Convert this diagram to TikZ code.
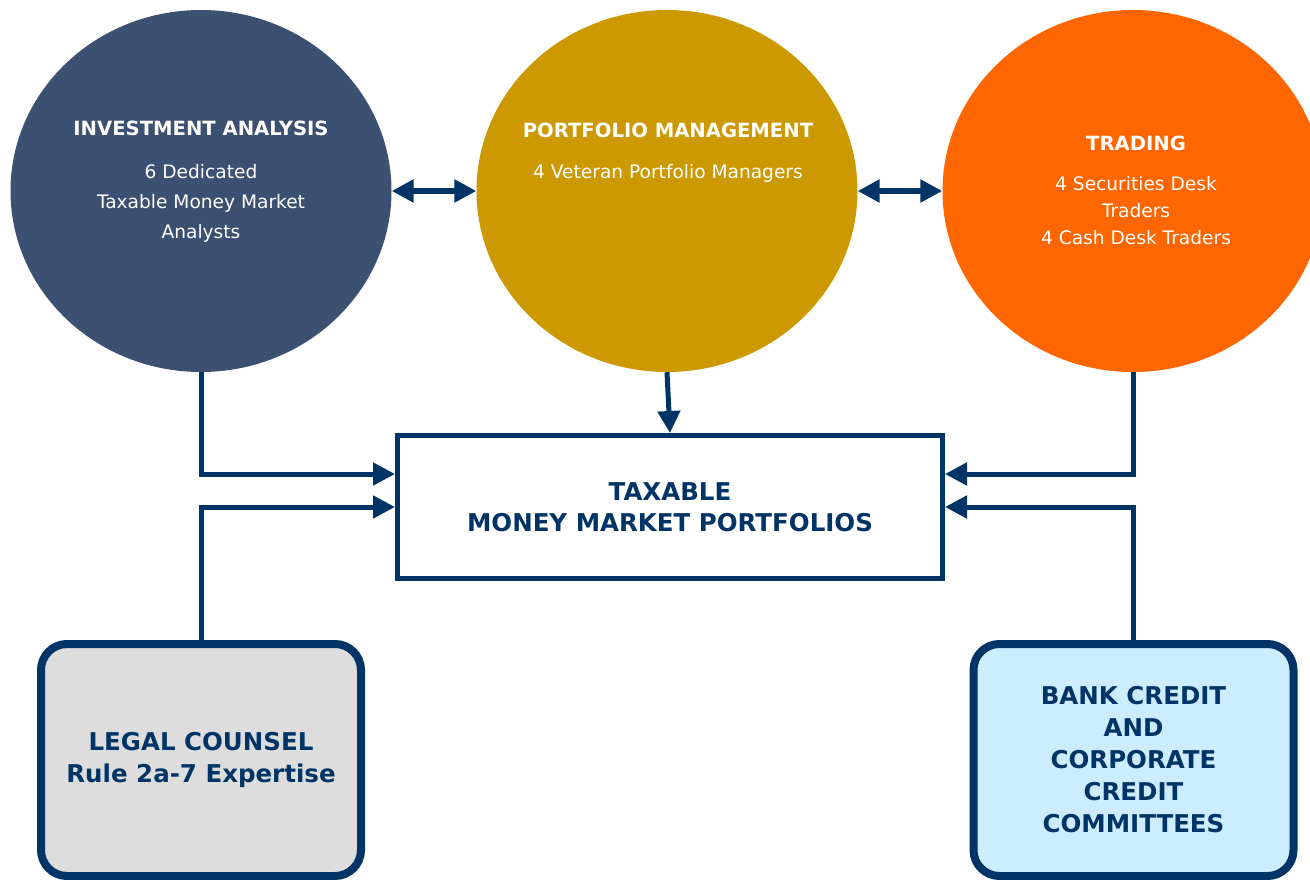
\documentclass[tikz,border=0pt]{standalone}
\usepackage{fontspec}
\setmainfont{DejaVu Sans}
\usetikzlibrary{shapes.geometric,arrows.meta}
\definecolor{navy}{HTML}{003366}
\definecolor{iablue}{HTML}{3C5071}
\definecolor{pmgold}{HTML}{CC9900}
\definecolor{trdorange}{HTML}{FF6600}
\definecolor{legalgray}{HTML}{DDDDDD}
\definecolor{bankblue}{HTML}{CCECFF}

\begin{document}
\begin{tikzpicture}[x=1pt, y=-1pt,
	disc/.style = {ellipse, inner sep=0pt, minimum width=381pt, minimum height=362pt},
	head/.style = {text=white, font=\fontsize{19.6}{23}\selectfont\bfseries},
	body/.style = {text=white, align=center, font=\fontsize{18.6}{30}\selectfont},
	port/.style = {draw=navy, line width=5pt, minimum width=545pt, minimum height=143pt, text=navy, align=center, font=\fontsize{24.5}{31}\selectfont\bfseries},
	side/.style = {draw=navy, line width=8pt, rounded corners=26pt, minimum width=320pt, minimum height=232pt, text=navy, align=center, font=\fontsize{24.5}{32}\selectfont\bfseries},
	link/.style = {draw=navy, line width=5pt, -{Triangle[length=22pt 0 0, width=22pt 0 0]}},
	both/.style = {draw=navy, line width=6pt, {Triangle[length=22pt 0 0, width=22pt 0 0]}-{Triangle[length=22pt 0 0, width=22pt 0 0]}}]
	\useasboundingbox (0,0) rectangle (1310,880);
	\node[disc, fill=iablue] (ia) at (201,191) {};
	\node[disc, fill=pmgold] (pm) at (667,191) {};
	\node[disc, fill=trdorange] (trd) at (1133,191) {};
	\node[port] (box) at (670,507) {TAXABLE\\MONEY MARKET PORTFOLIOS};
	\node[side, fill=legalgray] (legal) at (201,760) {LEGAL COUNSEL\\Rule 2a-7 Expertise};
	\node[side, fill=bankblue] (bank) at (1133.5,760) {BANK CREDIT\\AND\\CORPORATE\\CREDIT\\COMMITTEES};
	\node[head] (ia-head) at (201,128) {INVESTMENT ANALYSIS};
	\node[body] (ia-body) at (201,203) {6 Dedicated\\Taxable Money Market\\Analysts};
	\node[head] (pm-head) at (668,130) {PORTFOLIO MANAGEMENT};
	\node[body] (pm-body) at (668,173) {4 Veteran Portfolio Managers};
	\node[head] (trd-head) at (1136,143) {TRADING};
	\node[body, font=\fontsize{18.6}{27}\selectfont] (trd-body) at (1136,211) {4 Securities Desk\\Traders\\4 Cash Desk Traders};
	\draw[both] (ia.east) -- (pm.west);
	\draw[both] (pm.east) -- (trd.west);
	\draw[link] (pm.south) -- (box.north);
	\draw[link] (ia.south) |- ([yshift=33pt]box.west);
	\draw[link] (legal.north) |- (box.west);
	\draw[link] (trd.south) |- ([yshift=33pt]box.east);
	\draw[link] (bank.north) |- (box.east);
\end{tikzpicture}
\end{document}
